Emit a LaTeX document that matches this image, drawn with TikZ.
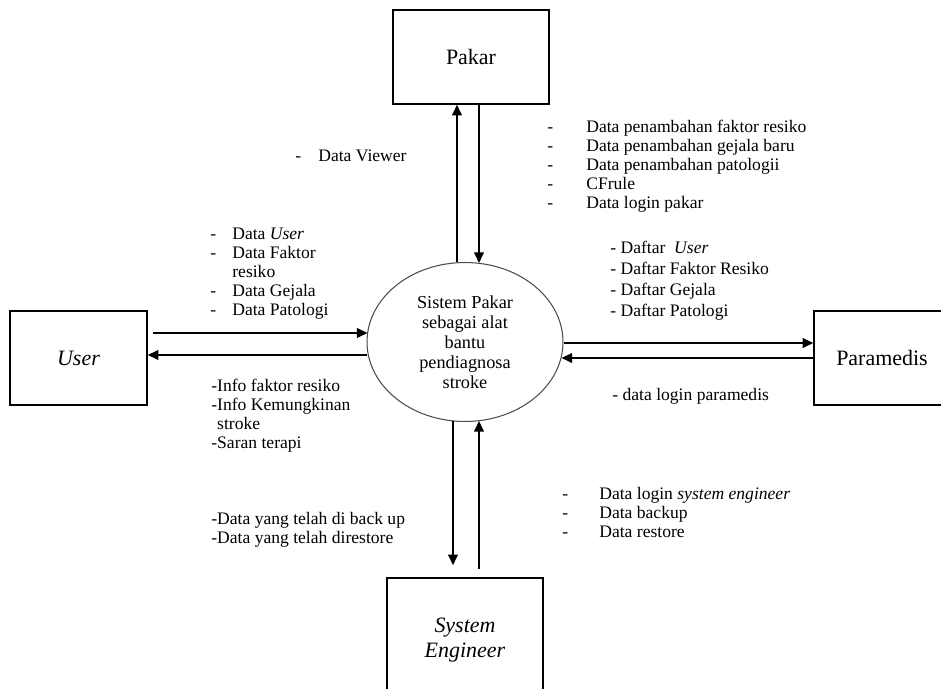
\documentclass[tikz,border=0pt]{standalone}
\usepackage{fontspec}
\setmainfont{Liberation Serif}
\usetikzlibrary{shapes.geometric, arrows.meta, positioning, calc}

\begin{document}
\begin{tikzpicture}[
  x=0.02cm, y=-0.02cm,
  entity/.style={draw, line width=0.9pt, minimum width=3.12cm, minimum height=1.88cm, inner sep=0pt, align=center, font=\fontsize{12.5}{14}\selectfont},
  proc/.style={draw=black!70, ellipse, line width=0.6pt, minimum width=3.92cm, minimum height=3.18cm, inner sep=0pt, align=center, font=\fontsize{10.4}{11.4}\selectfont},
  flow/.style={line width=0.8pt, -{Triangle[length=6pt,width=5.5pt]}},
  lst/.style={anchor=north west, inner sep=0pt, font=\fontsize{10}{10.8}\selectfont},
]
\useasboundingbox (0,0) rectangle (941,689);

% process and external entities
\node[proc] (sp) at (465,342) {Sistem Pakar\\sebagai alat\\bantu\\pendiagnosa\\stroke};
\node[entity] (pk) at (471,57) {Pakar};
\node[entity, minimum width=2.74cm] (us) at (78.5,358) {\textit{User}};
\node[entity, minimum width=2.72cm] (pm) at (882,358) {Paramedis};
\node[entity, minimum height=2.48cm] (se) at (465,640) {\textit{System}\\\textit{Engineer}};

% data flows
\draw[flow] ($(sp.north)+(-8,0)$) -- ($(pk.south)+(-14,0)$);
\draw[flow] ($(pk.south)+(8,0)$) -- ($(sp.north)+(14,1)$);
\draw[flow] ($(us.east)+(5,-25)$) -- ($(sp.west)+(1,-9)$);
\draw[flow] ($(sp.west)+(1,13)$) -- ($(us.east)+(0,-3)$);
\draw[flow] ($(sp.east)+(0,1)$) -- ($(pm.west)+(0,-15)$);
\draw[flow] (pm.west) -- ($(sp.east)+(-2,16)$);
\draw[flow] ($(sp.south)+(-12,-1)$) -- ($(se.north)+(-12,-12)$);
\draw[flow] ($(se.north)+(14,-8)$) -- ($(sp.south)+(14,-1)$);

% flow labels
\node[lst] (lviewer) at (295,148) {\begin{tabular}{@{}p{0.46cm}@{}l@{}}
- & Data Viewer\end{tabular}};
\node[lst] (luser) at (210,226) {\begin{tabular}{@{}p{0.44cm}@{}l@{}}
- & Data \textit{User}\\
- & Data Faktor\\
  & resiko\\
- & Data Gejala\\
- & Data Patologi\end{tabular}};
\node[lst] (lpakar) at (547,119) {\begin{tabular}{@{}p{0.78cm}@{}l@{}}
- & Data penambahan faktor resiko\\
- & Data penambahan gejala baru\\
- & Data penambahan patologii\\
- & CFrule\\
- & Data login pakar\end{tabular}};
\node[lst, font=\fontsize{10}{11.9}\selectfont] (ldaftar) at (610,239) {\begin{tabular}{@{}l@{}}
- Daftar~ \textit{User}\\
- Daftar Faktor Resiko\\
- Daftar Gejala\\
- Daftar Patologi\end{tabular}};
\node[lst] (linfo) at (211,378) {\begin{tabular}{@{}l@{}}
-Info faktor resiko\\
-Info Kemungkinan\\
\phantom{-}stroke\\
-Saran terapi\end{tabular}};
\node[lst] (lparam) at (612,387) {\begin{tabular}{@{}l@{}}
- data login paramedis\end{tabular}};
\node[lst] (lbackup) at (211,511) {\begin{tabular}{@{}l@{}}
-Data yang telah di back up\\
-Data yang telah direstore\end{tabular}};
\node[lst] (lseng) at (562,486) {\begin{tabular}{@{}p{0.74cm}@{}l@{}}
- & Data login \textit{system engineer}\\
- & Data backup\\
- & Data restore\end{tabular}};
\end{tikzpicture}
\end{document}
